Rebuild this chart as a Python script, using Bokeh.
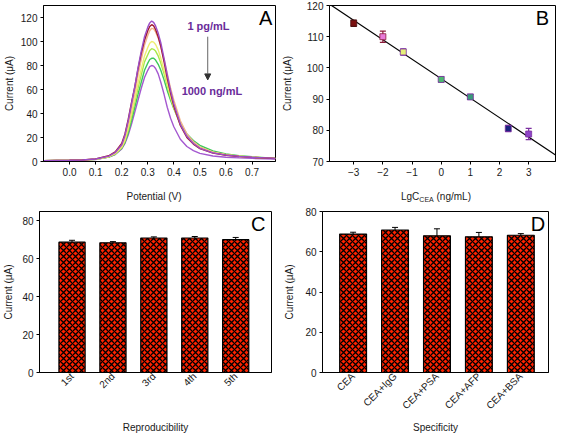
import math
import numpy as np
from bokeh.plotting import figure
from bokeh.layouts import column, row
from bokeh.models import (Range1d, FixedTicker, Label, Arrow, NormalHead,
                          Whisker, TeeHead, ColumnDataSource, Div)
from bokeh.embed import file_html
from bokeh.resources import INLINE

FONT = "Liberation Sans"

# ---------------- Panel A data (DPV curves) ----------------
potential = [-0.1, -0.05, 0.0, 0.05, 0.1, 0.15, 0.175, 0.2, 0.2125, 0.225, 0.2375, 0.25,
             0.2625, 0.275, 0.2875, 0.3, 0.3075, 0.315, 0.3225, 0.33, 0.34, 0.35, 0.3625,
             0.375, 0.3875, 0.4, 0.425, 0.45, 0.475, 0.5, 0.55, 0.6, 0.65, 0.7, 0.75, 0.79]
curve_1 = [0.6, 0.8, 1.0, 1.3, 2.1, 4.5, 7.5, 14, 22, 34, 48, 62, 78, 92, 104, 112, 115.5, 117,
           116, 113, 107, 99, 86, 72, 59, 48, 31, 21, 15, 11, 7.2, 5.3, 4.3, 3.5, 3.0, 2.6]
curve_2 = [0.6, 0.8, 1.0, 1.3, 2.2, 4.8, 8, 15, 23, 35, 49, 62, 77, 90, 101, 109, 112.5, 114,
           113, 110, 104, 96, 83, 69, 57, 46, 30, 20, 14.5, 10.7, 7, 5.2, 4.2, 3.4, 2.9, 2.5]
curve_3 = [0.6, 0.8, 1.0, 1.3, 2.0, 4.3, 7, 13, 20, 31, 44, 57, 72, 85, 97, 105, 109, 111,
           110.5, 108, 103, 96, 85, 73, 61, 51, 34, 23, 16.5, 12, 7.7, 5.6, 4.5, 3.6, 3.0, 2.6]
curve_4 = [0.6, 0.8, 1.0, 1.3, 1.9, 4.0, 6.5, 12, 18, 28, 40, 52, 65, 77, 88, 95, 98.5, 100,
           99.5, 97.5, 93, 86, 76, 65, 54, 45, 30.5, 21, 15.5, 11.5, 7.5, 5.5, 4.4, 3.6, 3.0, 2.6]
curve_5 = [0.6, 0.8, 1.0, 1.3, 1.9, 3.9, 6.3, 11.5, 17, 26, 37, 49, 61, 72, 83, 89, 92.5, 94,
           93.5, 92, 88, 82, 73, 63, 53, 45, 31, 22, 16, 12, 7.8, 5.7, 4.5, 3.6, 3.0, 2.6]
curve_6 = [0.6, 0.8, 1.0, 1.3, 1.8, 3.7, 6, 11, 16, 24, 34, 45, 56, 66, 76, 82, 85, 86,
           86, 84.5, 81, 76, 68, 59, 51, 44, 31.5, 23, 17.5, 13.5, 8.8, 6.3, 4.9, 3.9, 3.2, 2.7]
curve_7 = [0.5, 0.7, 0.9, 1.2, 1.7, 3.6, 5.8, 10.5, 15, 22, 31, 41, 51, 61, 70, 76, 79, 80,
           79.5, 77.5, 73, 66, 56, 45, 36, 29, 18.5, 12.5, 9, 6.8, 4.6, 3.6, 3.0, 2.6, 2.3, 2.1]
a_xticks = [0.0, 0.1, 0.2, 0.3, 0.4, 0.5, 0.6, 0.7]
a_xtick_labels = ["0.0", "0.1", "0.2", "0.3", "0.4", "0.5", "0.6", "0.7"]
a_yticks = [0, 20, 40, 60, 80, 100, 120]

# ---------------- Panel B data (calibration) ----------------
lg_conc = [-3, -2, -1.3, 0, 1, 2.3, 3]
b_current = [114.3, 110.0, 105.1, 96.3, 90.7, 80.6, 78.8]
b_error = [1.0, 1.8, 1.0, 0.8, 0.8, 1.0, 1.8]
b_xticks = [-3, -2, -1, 0, 1, 2, 3]
b_yticks = [70, 80, 90, 100, 110, 120]

# ---------------- Panel C data (reproducibility) ----------------
c_cats = ["1st", "2nd", "3rd", "4th", "5th"]
c_values = [68.8, 68.5, 71.0, 71.0, 70.1]
c_errors = [1.0, 0.6, 0.6, 0.8, 1.2]

# ---------------- Panel D data (specificity) ----------------
d_cats = ["CEA", "CEA+IgG", "CEA+PSA", "CEA+AFP", "CEA+BSA"]
d_values = [68.8, 70.8, 67.9, 67.4, 68.2]
d_errors = [0.9, 1.3, 3.5, 2.2, 0.8]
cd_yticks = [0, 20, 40, 60, 80]

# ---------------- styles ----------------
curve_colors = ["#9b4fc8", "#a01830", "#f2b48a", "#eeee70", "#a8e84a", "#3ec85a", "#a458d0"]
b_fill = ["#7b1010", "#e87ad8", "#e6f07a", "#4cb870", "#3a9a7a", "#1a237e", "#8e44c8"]
b_err_colors = ["#4a1010", "#8b1a3a", "#7b2fa0", "#7b2fa0", "#7b2fa0", "#7b2fa0", "#7b2fa0"]
BAR_RED = "#ff2200"
TXT = "#1a1a1a"


def style(p):
    p.grid.visible = False
    p.outline_line_color = "black"
    p.outline_line_width = 1
    p.background_fill_color = "white"
    p.border_fill_color = "white"
    for ax in p.axis:
        ax.axis_line_color = "black"
        ax.major_tick_line_color = "black"
        ax.minor_tick_line_color = None
        ax.major_tick_out = 3
        ax.major_tick_in = 0
        ax.major_label_standoff = 3
        ax.major_label_text_font = FONT
        ax.major_label_text_font_size = "10px"
        ax.major_label_text_color = TXT
        ax.axis_label_text_font = FONT
        ax.axis_label_text_font_size = "10px"
        ax.axis_label_text_font_style = "normal"
        ax.axis_label_text_color = TXT


def panel_letter(p, text, x, y):
    p.add_layout(Label(x=x, y=y, text=text, text_font=FONT, text_font_size="20px",
                       text_align="right", text_baseline="top", text_color="black"))


def title_div(html, width, left, right):
    return Div(text=html, width=width, height=24, margin=(0, right, 0, left),
               styles={"font-family": FONT, "font-size": "10px", "color": TXT,
                       "text-align": "center", "line-height": "14px",
                       "padding-top": "9px", "box-sizing": "border-box"})


# ---------------- Panel A ----------------
pA = figure(frame_width=232, frame_height=156, x_range=Range1d(-0.1, 0.79),
            y_range=Range1d(0, 130), output_backend="svg", toolbar_location=None,
            min_border_left=38, min_border_right=3, min_border_top=5, min_border_bottom=20)
for ys, col in zip([curve_7, curve_6, curve_5, curve_4, curve_3, curve_2, curve_1],
                   curve_colors[::-1]):
    pA.line(potential, ys, line_color=col, line_width=1.4)
style(pA)
pA.xaxis.ticker = FixedTicker(ticks=a_xticks)
pA.xaxis.major_label_overrides = {t: l for t, l in zip(a_xticks, a_xtick_labels)}
pA.yaxis.ticker = FixedTicker(ticks=a_yticks)
pA.yaxis.axis_label = "Current (\u03bcA)"
pA.yaxis.axis_label_standoff = 3
panel_letter(pA, "A", 0.778, 128.5)
pA.add_layout(Label(x=0.533, y=113, text="1 pg/mL", text_font=FONT, text_font_size="11px",
                    text_font_style="bold", text_color="#6a2c9a", text_align="center",
                    text_baseline="middle"))
pA.add_layout(Label(x=0.546, y=59, text="1000 ng/mL", text_font=FONT, text_font_size="11px",
                    text_font_style="bold", text_color="#6a2c9a", text_align="center",
                    text_baseline="middle"))
pA.add_layout(Arrow(end=NormalHead(size=6, fill_color="#333", line_color="#333"),
                    x_start=0.53, y_start=104, x_end=0.53, y_end=68,
                    line_color="#666", line_width=1))

# ---------------- Panel B ----------------
pB = figure(frame_width=226, frame_height=156, x_range=Range1d(-3.83, 3.92),
            y_range=Range1d(70, 120), output_backend="svg", toolbar_location=None,
            min_border_left=50, min_border_right=2, min_border_top=5, min_border_bottom=20)
slope, intercept = np.polyfit(lg_conc, b_current, 1)
xr = [pB.x_range.start, pB.x_range.end]
pB.line(xr, [intercept + slope * v for v in xr], line_color="black", line_width=1.2)
b_lo = [c - e for c, e in zip(b_current, b_error)]
b_hi = [c + e for c, e in zip(b_current, b_error)]
pB.segment(lg_conc, b_lo, lg_conc, b_hi, line_color=b_err_colors, line_width=1.2)
pB.scatter(lg_conc, b_lo, marker="dash", size=6, line_color=b_err_colors, line_width=1.2)
pB.scatter(lg_conc, b_hi, marker="dash", size=6, line_color=b_err_colors, line_width=1.2)
pB.scatter(lg_conc, b_current, marker="square", size=6, fill_color=b_fill,
           line_color=b_err_colors, line_width=0.8)
style(pB)
pB.xaxis.ticker = FixedTicker(ticks=b_xticks)
pB.yaxis.ticker = FixedTicker(ticks=b_yticks)
pB.yaxis.axis_label = "Current (\u03bcA)"
pB.yaxis.axis_label_standoff = 11
panel_letter(pB, "B", 3.7, 119.4)

# x-axis titles of the top row (B needs a subscript)
divA = title_div("Potential (V)", 232, 38, 3)
divB = title_div("LgC<sub style='font-size:7px;vertical-align:-2px;line-height:0'>CEA</sub>"
                 " (ng/mL)", 226, 50, 2)


# ---------------- Panels C and D ----------------
def bar_panel(cats, values, errors, fw, xr, ylim, mbl, mbr, xlabel, label_standoff,
              ylab_standoff, letter, letter_xy):
    idx = list(range(1, len(cats) + 1))
    p = figure(frame_width=fw, frame_height=161, x_range=Range1d(*xr),
               y_range=Range1d(0, ylim), output_backend="svg", toolbar_location=None,
               min_border_left=mbl, min_border_right=mbr, min_border_top=6,
               min_border_bottom=64)
    src = ColumnDataSource(dict(x=idx, top=values,
                                lower=[v - e for v, e in zip(values, errors)],
                                upper=[v + e for v, e in zip(values, errors)]))
    w = Whisker(source=src, base="x", lower="lower", upper="upper", line_color="black",
                line_width=1, level="underlay",
                upper_head=TeeHead(size=6, line_color="black", line_width=1),
                lower_head=TeeHead(size=6, line_color="black", line_width=1))
    p.add_layout(w)
    p.vbar(x="x", top="top", width=0.64, source=src, fill_color=BAR_RED,
           hatch_pattern="diagonal_cross", hatch_color="black", hatch_scale=6,
           hatch_weight=1.3, line_color="black", line_width=1.2)
    style(p)
    p.xaxis.ticker = FixedTicker(ticks=idx)
    p.xaxis.major_label_overrides = {i: c for i, c in zip(idx, cats)}
    p.xaxis.major_label_orientation = math.pi / 4
    p.xaxis.major_label_standoff = 2
    p.xaxis.major_tick_out = 0
    p.xaxis.axis_label = xlabel
    p.xaxis.axis_label_standoff = label_standoff
    p.yaxis.ticker = FixedTicker(ticks=cd_yticks)
    p.yaxis.axis_label = "Current (\u03bcA)"
    p.yaxis.axis_label_standoff = ylab_standoff
    panel_letter(p, letter, *letter_xy)
    return p


pC = bar_panel(c_cats, c_values, c_errors, 232, (0.205, 5.875), 85, 38, 3,
               "Reproducibility", 25, 5, "C", (5.73, 84.0))
pD = bar_panel(d_cats, d_values, d_errors, 226, (0.27, 5.66), 80, 48, 4,
               "Specificity", 4, 7, "D", (5.58, 79.2))

layout = column(row(pA, pB), row(divA, divB), row(pC, pD))
open("out.html", "w").write(file_html(layout, INLINE))
